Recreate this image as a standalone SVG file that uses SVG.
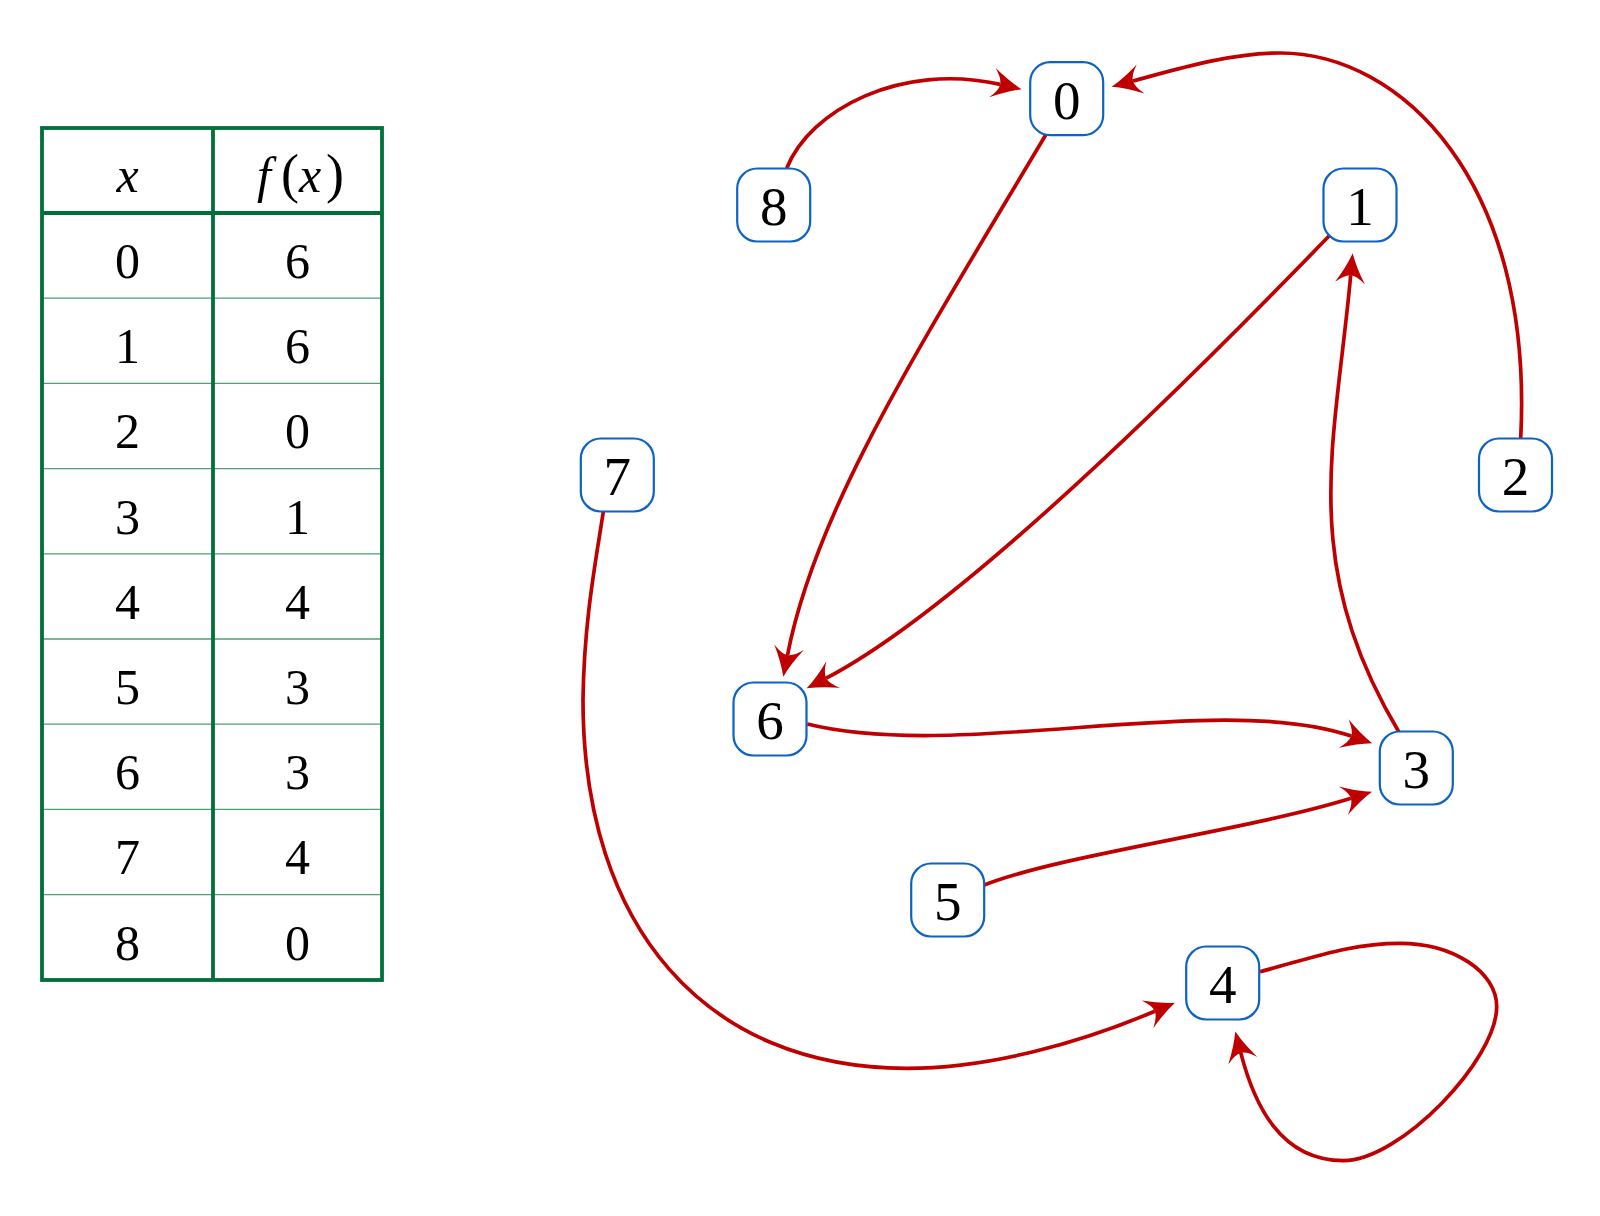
<svg xmlns="http://www.w3.org/2000/svg" width="1600" height="1216" viewBox="0 0 1600 1216">
<style>
.num{font-family:"Liberation Serif","Times New Roman",serif;font-size:50px;fill:#000;text-anchor:middle}
.nlab{font-family:"Liberation Serif","Times New Roman",serif;font-size:55px;fill:#000;text-anchor:middle}
.it{font-family:"Liberation Serif","Times New Roman",serif;font-style:italic;font-size:50px;fill:#000}
.up{font-family:"Liberation Serif","Times New Roman",serif;font-size:54px;fill:#000}
.thick{stroke:#00703a;stroke-width:3.8;fill:none}
.thin{stroke:#4f9f70;stroke-width:1.3;fill:none}
.node rect{fill:#fff;stroke:#0d63c4;stroke-width:2.2}
.edge{fill:none;stroke:#c00000;stroke-width:3.7;marker-end:url(#arr)}
</style>
<defs>
<marker id="arr" viewBox="-10 -17 34 34" markerWidth="34" markerHeight="34" refX="0" refY="0" orient="auto" markerUnits="userSpaceOnUse">
<path d="M22,0 Q8,-5 -8,-15 Q0,-6 0,0 Q0,6 -8,15 Q8,5 22,0 Z" fill="#c00000"/>
</marker>
</defs>
<rect width="1600" height="1216" fill="#fff"/>
<g id="table">
<g class="thin">
<line x1="42" y1="298.2" x2="382" y2="298.2"/>
<line x1="42" y1="383.4" x2="382" y2="383.4"/>
<line x1="42" y1="468.6" x2="382" y2="468.6"/>
<line x1="42" y1="553.8" x2="382" y2="553.8"/>
<line x1="42" y1="639" x2="382" y2="639"/>
<line x1="42" y1="724.2" x2="382" y2="724.2"/>
<line x1="42" y1="809.4" x2="382" y2="809.4"/>
<line x1="42" y1="894.6" x2="382" y2="894.6"/>
</g>
<rect class="thick" x="42" y="128" width="340" height="852"/>
<line class="thick" x1="213" y1="128" x2="213" y2="980"/>
<line class="thick" x1="42" y1="213" x2="382" y2="213"/>
<text class="it" x="127.5" y="192" text-anchor="middle">x</text>
<text y="192"><tspan class="it" x="257">f</tspan><tspan class="up" x="281">(</tspan><tspan class="it" x="299">x</tspan><tspan class="up" x="326">)</tspan></text>
<text class="num" x="127.5" y="278">0</text><text class="num" x="297.5" y="278">6</text>
<text class="num" x="127.5" y="363.2">1</text><text class="num" x="297.5" y="363.2">6</text>
<text class="num" x="127.5" y="448.4">2</text><text class="num" x="297.5" y="448.4">0</text>
<text class="num" x="127.5" y="533.6">3</text><text class="num" x="297.5" y="533.6">1</text>
<text class="num" x="127.5" y="618.8">4</text><text class="num" x="297.5" y="618.8">4</text>
<text class="num" x="127.5" y="704">5</text><text class="num" x="297.5" y="704">3</text>
<text class="num" x="127.5" y="789.2">6</text><text class="num" x="297.5" y="789.2">3</text>
<text class="num" x="127.5" y="874.4">7</text><text class="num" x="297.5" y="874.4">4</text>
<text class="num" x="127.5" y="959.6">8</text><text class="num" x="297.5" y="959.6">0</text>
</g>
<g id="connectors">
<path class="edge" d="M786.7,168.3 C810,110 900,62 1000.2,84.4"/>
<path class="edge" d="M1520.7,438.3 C1534,180 1400,53 1280,53 C1230,53 1176.4,69.3 1132.9,81"/>
<path class="edge" d="M1046.7,133.3 C919,348 816,508 787.5,655.1"/>
<path class="edge" d="M1330,235 C1191,378.6 959.3,609 826.2,678.2"/>
<path class="edge" d="M807.3,724 C960,762 1215,690 1351.3,736.1"/>
<path class="edge" d="M1399.3,732.7 C1297,560.7 1335.4,444.5 1350.7,275.2"/>
<path class="edge" d="M984.3,885 C1060,855 1250,830 1351,798.3"/>
<path class="edge" d="M603.3,511.7 C596,560 584,620 583,700 C583,928 706,1068.3 906.7,1068.3 C990,1068.3 1081,1042.5 1154.8,1011.3"/>
<path class="edge" d="M1260,971.7 C1310,958.7 1350,943.3 1400,943.3 C1453,943.3 1496.7,971.8 1496.7,1006.7 C1496.7,1060 1400,1160.7 1343.3,1160.7 C1280,1160.7 1254,1104 1240.8,1052.9"/>
</g>
<g id="node0" class="node"><rect x="1030.2" y="62.2" width="73" height="73" rx="20"/><text class="nlab" x="1066.7" y="118.5">0</text></g>
<g id="node1" class="node"><rect x="1323.5" y="168.5" width="73" height="73" rx="20"/><text class="nlab" x="1360" y="224.5">1</text></g>
<g id="node2" class="node"><rect x="1479" y="438.5" width="73" height="73" rx="20"/><text class="nlab" x="1515.5" y="494.5">2</text></g>
<g id="node3" class="node"><rect x="1379.8" y="731.5" width="73" height="73" rx="20"/><text class="nlab" x="1416.3" y="787.5">3</text></g>
<g id="node4" class="node"><rect x="1186.2" y="946.5" width="73" height="73" rx="20"/><text class="nlab" x="1222.7" y="1002.5">4</text></g>
<g id="node5" class="node"><rect x="911.2" y="863.5" width="73" height="73" rx="20"/><text class="nlab" x="947.7" y="919.5">5</text></g>
<g id="node6" class="node"><rect x="733.5" y="682.5" width="73" height="73" rx="20"/><text class="nlab" x="770" y="738.5">6</text></g>
<g id="node7" class="node"><rect x="580.8" y="438.5" width="73" height="73" rx="20"/><text class="nlab" x="617.3" y="494.5">7</text></g>
<g id="node8" class="node"><rect x="737.2" y="168.5" width="73" height="73" rx="20"/><text class="nlab" x="773.7" y="224.5">8</text></g>
</svg>
